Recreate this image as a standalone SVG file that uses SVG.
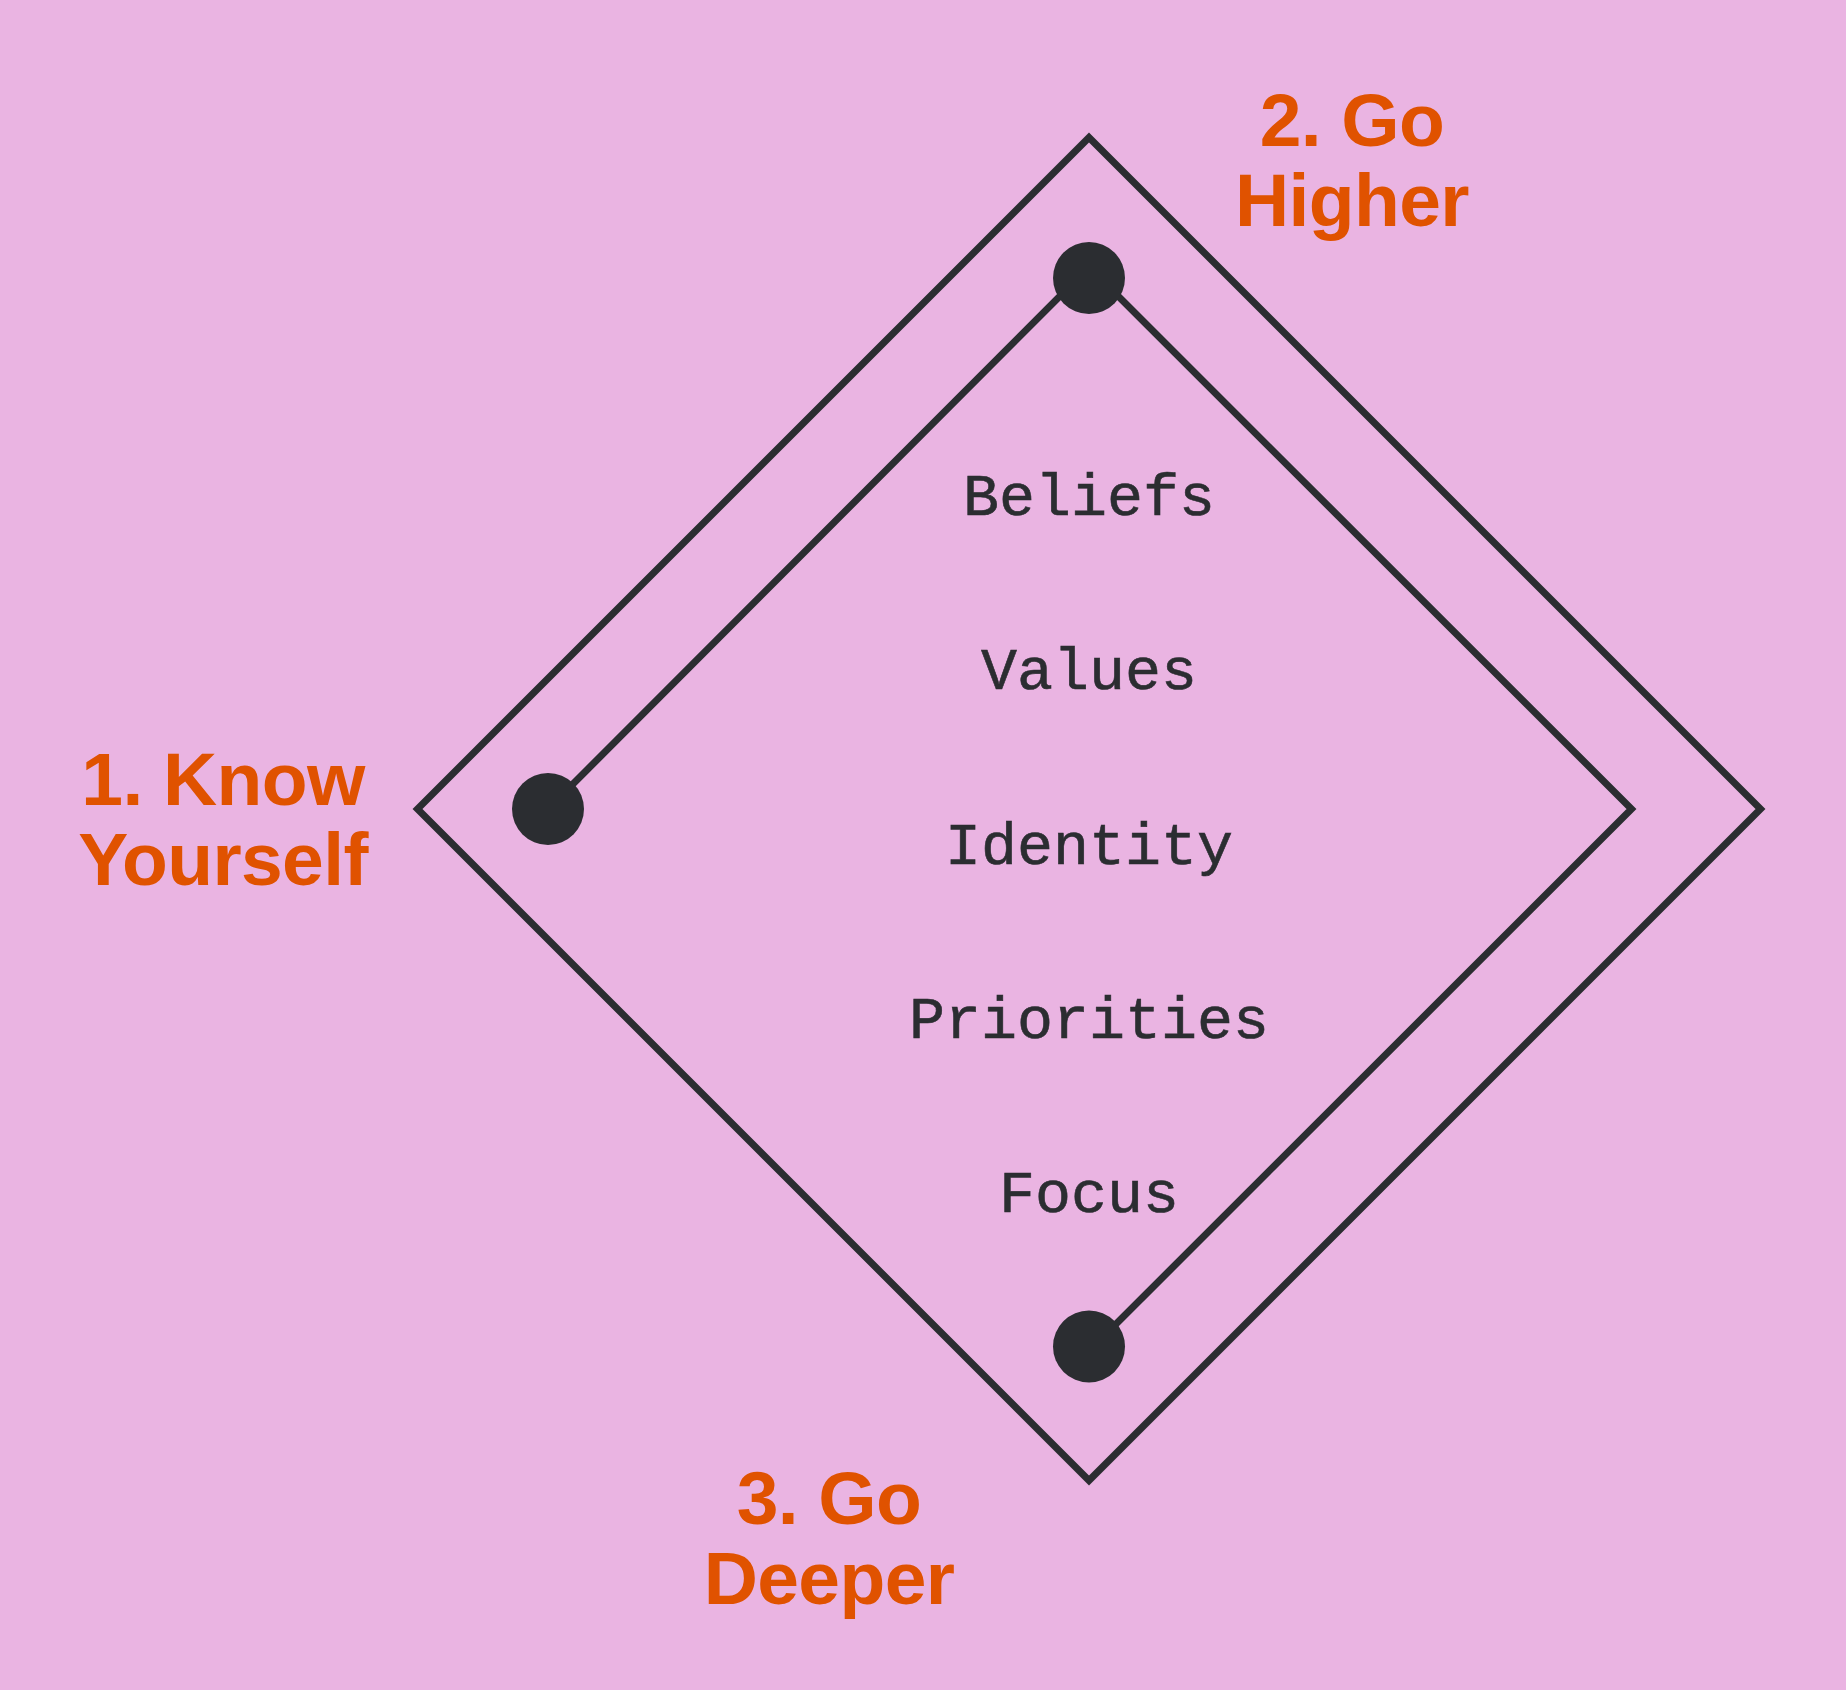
<svg xmlns="http://www.w3.org/2000/svg" width="1846" height="1690" viewBox="0 0 1846 1690">
  <style>
    .frame { fill: none; stroke: #2B2D31; stroke-width: 7; stroke-linejoin: miter; stroke-miterlimit: 10; }
    .dot { fill: #2B2D31; }
    .step { font-family: "Liberation Sans", Arial, sans-serif; font-weight: bold; font-size: 75px; letter-spacing: -0.6px; fill: #E05200; text-anchor: middle; }
    .layer { font-family: "Liberation Mono", "Courier New", monospace; font-size: 60px; fill: #2B2D31; stroke: #2B2D31; stroke-width: 0.6; text-anchor: middle; }
  </style>
  <rect x="0" y="0" width="1846" height="1690" fill="#EAB4E2"/>
  <g id="outer-diamond">
    <polygon class="frame" points="1089,137.5 1760.5,809 1089,1480.5 417.5,809"/>
  </g>
  <g id="connectors">
    <polyline class="frame" points="548,809 1089,267 1631.5,809 1089,1351"/>
  </g>
  <g id="node-know-yourself">
    <circle class="dot" cx="548" cy="809" r="36"/>
    <text class="step" x="223" y="805">1. Know</text>
    <text class="step" x="223" y="885">Yourself</text>
  </g>
  <g id="node-go-higher">
    <circle class="dot" cx="1089" cy="278" r="36"/>
    <text class="step" x="1352" y="146">2. Go</text>
    <text class="step" x="1352" y="226">Higher</text>
  </g>
  <g id="node-go-deeper">
    <circle class="dot" cx="1089" cy="1346.5" r="36"/>
    <text class="step" x="829" y="1523.5">3. Go</text>
    <text class="step" x="829" y="1604">Deeper</text>
  </g>
  <g id="layers">
    <text class="layer" x="1089" y="515">Beliefs</text>
    <text class="layer" x="1089" y="689.3">Values</text>
    <text class="layer" x="1089" y="863.6">Identity</text>
    <text class="layer" x="1089" y="1037.9">Priorities</text>
    <text class="layer" x="1089" y="1212.2">Focus</text>
  </g>
</svg>
